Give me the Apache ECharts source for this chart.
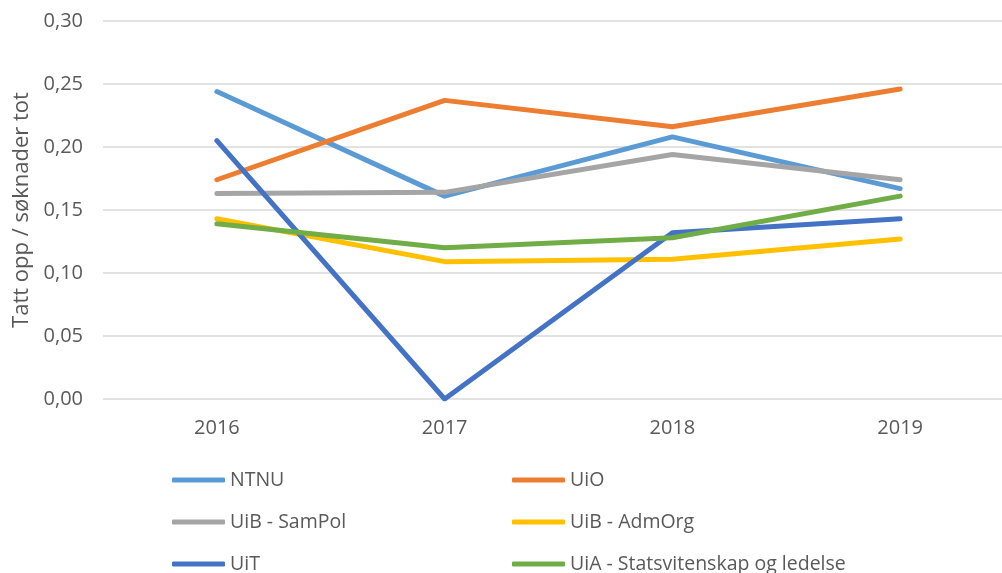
<!DOCTYPE html>
<html>
<head>
<meta charset="utf-8">
<script src="https://cdn.jsdelivr.net/npm/echarts@6/dist/echarts.min.js"></script>
<style>
  html, body { margin: 0; padding: 0; background: #fff; }
  #chart { width: 1002px; height: 573px; }
</style>
</head>
<body>
<div id="chart"></div>
<script>
const years = ['2016', '2017', '2018', '2019']
const yTicks = [0, 0.05, 0.10, 0.15, 0.20, 0.25, 0.30]

const ntnu = [0.244, 0.161, 0.208, 0.167]
const uio = [0.174, 0.237, 0.216, 0.246]
const uibSamPol = [0.163, 0.164, 0.194, 0.174]
const uibAdmOrg = [0.143, 0.109, 0.111, 0.127]
const uit = [0.205, 0.000, 0.132, 0.143]
const uia = [0.139, 0.120, 0.128, 0.161]

const names = ['NTNU', 'UiO', 'UiB - SamPol', 'UiB - AdmOrg', 'UiT', 'UiA - Statsvitenskap og ledelse']
const colors = ['#5B9BD5', '#ED7D31', '#A5A5A5', '#FFC000', '#4472C4', '#70AD47']
const values = [ntnu, uio, uibSamPol, uibAdmOrg, uit, uia]

const font = 'Open Sans'
const textColor = '#595959'

// one legend per item, two columns x three rows
const legends = names.map((n, i) => ({
  left: i % 2 === 0 ? 172 : 512,
  top: 470 + Math.floor(i / 2) * 42,
  padding: 0,
  itemWidth: 53,
  itemHeight: 5,
  icon: 'roundRect',
  data: [n],
  textStyle: { color: textColor, fontSize: 19.5, fontFamily: font, lineHeight: 20 }
}))

const myChart = echarts.init(document.getElementById('chart'))
myChart.setOption({
  animation: false,
  color: colors,
  grid: { left: 103, top: 21, width: 911, height: 378, outerBoundsMode: 'none' },
  legend: legends,
  xAxis: {
    type: 'category',
    data: years,
    boundaryGap: true,
    axisLine: { show: false },
    axisTick: { show: false },
    axisLabel: { color: textColor, fontSize: 20, fontFamily: font, margin: 19 }
  },
  yAxis: {
    type: 'value',
    min: yTicks[0],
    max: yTicks[yTicks.length - 1],
    interval: 0.05,
    name: 'Tatt opp / søknader tot',
    nameLocation: 'middle',
    nameGap: 69,
    nameTextStyle: { color: textColor, fontSize: 22, fontFamily: font },
    axisLine: { show: false },
    axisTick: { show: false },
    splitLine: { lineStyle: { color: '#D9D9D9', width: 1.5 } },
    axisLabel: {
      color: textColor, fontSize: 20, fontFamily: font, margin: 20,
      formatter: v => v.toFixed(2).replace('.', ',')
    }
  },
  series: values.map((d, i) => ({
    name: names[i],
    type: 'line',
    data: d,
    showSymbol: false,
    symbol: 'none',
    lineStyle: { width: 5, cap: 'round', join: 'round' }
  }))
})
</script>
</body>
</html>
